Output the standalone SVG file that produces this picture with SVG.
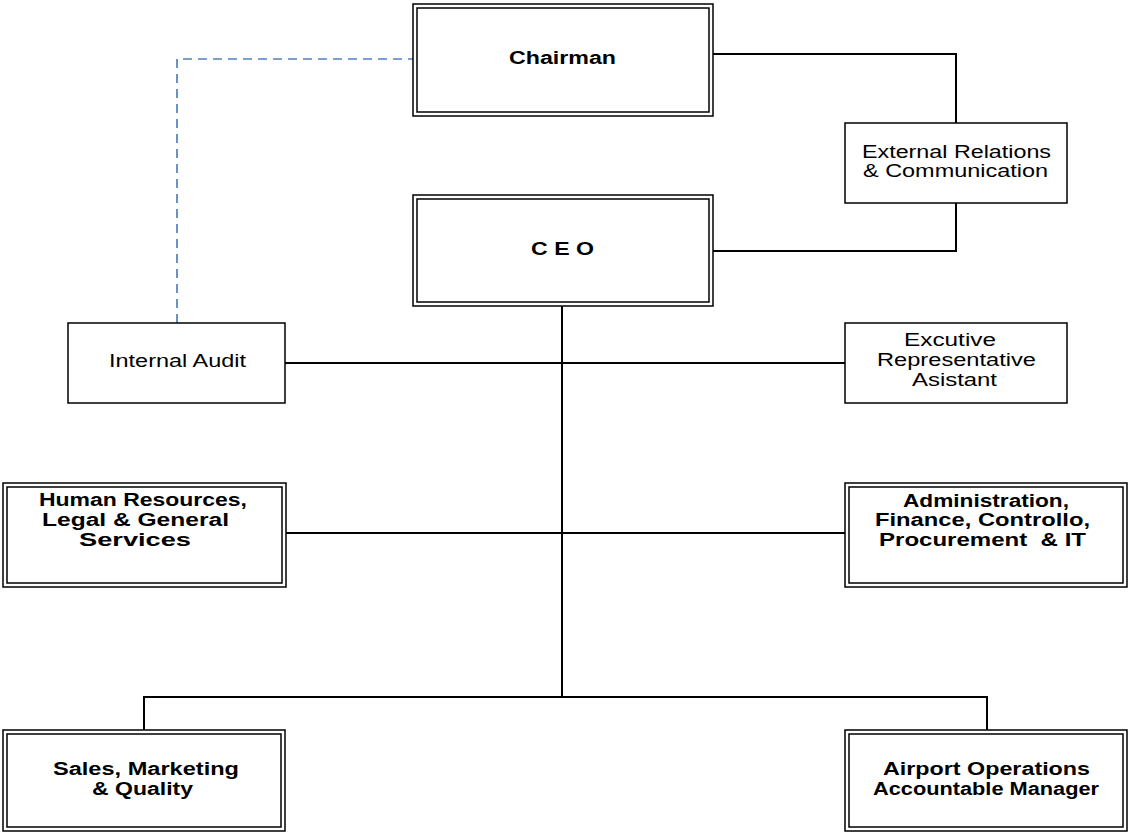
<svg xmlns="http://www.w3.org/2000/svg" width="1128" height="832" viewBox="0 0 1128 832">
<style>
.bg{fill:#fff}
.box{fill:#fff;stroke:#000;stroke-width:1.5}
.inner{fill:none;stroke:#000;stroke-width:1.5}
.conn{fill:none;stroke:#000;stroke-width:2}
.dash{fill:none;stroke:#4f81bd;stroke-width:1.7;stroke-dasharray:9 6}
.b{font-family:"Liberation Sans",Arial,sans-serif;font-weight:bold;font-size:18px;fill:#000;white-space:pre}
.r{font-family:"Liberation Sans",Arial,sans-serif;font-size:17.5px;fill:#000}
</style>
<rect class="bg" x="0" y="0" width="1128" height="832"/>
<g id="connectors">
<path class="dash" d="M177,323 V59 H417"/>
<path class="conn" d="M713,54 H956 V123"/>
<path class="conn" d="M956,203 V251 H713"/>
<path class="conn" d="M562,306 V697"/>
<path class="conn" d="M285,363 H845"/>
<path class="conn" d="M286,533 H845"/>
<path class="conn" d="M144,730 V697 H987 V730"/>
</g>
<g id="chairman">
<rect class="box" x="413" y="4" width="300" height="112"/>
<rect class="inner" x="417" y="8" width="292" height="104"/>
<text class="b" x="509" y="64" textLength="107" lengthAdjust="spacingAndGlyphs">Chairman</text>
</g>
<g id="ceo">
<rect class="box" x="413" y="195" width="300" height="111"/>
<rect class="inner" x="417" y="199" width="292" height="103"/>
<text class="b" x="531" y="255" textLength="63" lengthAdjust="spacingAndGlyphs">C E O</text>
</g>
<g id="external">
<rect class="box" x="845" y="123" width="222" height="80"/>
<text class="r" x="862" y="158" textLength="189" lengthAdjust="spacingAndGlyphs">External Relations</text>
<text class="r" x="863" y="177" textLength="185" lengthAdjust="spacingAndGlyphs">&amp; Communication</text>
</g>
<g id="internal-audit">
<rect class="box" x="68" y="323" width="217" height="80"/>
<text class="r" x="109" y="367" textLength="137" lengthAdjust="spacingAndGlyphs">Internal Audit</text>
</g>
<g id="executive">
<rect class="box" x="845" y="323" width="222" height="80"/>
<text class="r" x="904" y="346" textLength="92" lengthAdjust="spacingAndGlyphs">Excutive</text>
<text class="r" x="877" y="366" textLength="159" lengthAdjust="spacingAndGlyphs">Representative</text>
<text class="r" x="912" y="386" textLength="85" lengthAdjust="spacingAndGlyphs">Asistant</text>
</g>
<g id="hr">
<rect class="box" x="3" y="483" width="283" height="104"/>
<rect class="inner" x="7" y="487" width="275" height="96"/>
<text class="b" x="39" y="506" textLength="208" lengthAdjust="spacingAndGlyphs">Human Resources,</text>
<text class="b" x="42" y="526" textLength="187" lengthAdjust="spacingAndGlyphs">Legal &amp; General</text>
<text class="b" x="79" y="546" textLength="112" lengthAdjust="spacingAndGlyphs">Services</text>
</g>
<g id="admin">
<rect class="box" x="845" y="483" width="282" height="104"/>
<rect class="inner" x="849" y="487" width="274" height="96"/>
<text class="b" x="903" y="507" textLength="166" lengthAdjust="spacingAndGlyphs">Administration,</text>
<text class="b" x="875" y="526" textLength="215" lengthAdjust="spacingAndGlyphs">Finance, Controllo,</text>
<text class="b" x="879" y="546" textLength="207" lengthAdjust="spacingAndGlyphs" xml:space="preserve">Procurement  &amp; IT</text>
</g>
<g id="sales">
<rect class="box" x="3" y="730" width="282" height="101"/>
<rect class="inner" x="7" y="734" width="274" height="93"/>
<text class="b" x="53" y="775" textLength="186" lengthAdjust="spacingAndGlyphs">Sales, Marketing</text>
<text class="b" x="92" y="795" textLength="101" lengthAdjust="spacingAndGlyphs">&amp; Quality</text>
</g>
<g id="airport">
<rect class="box" x="845" y="730" width="282" height="101"/>
<rect class="inner" x="849" y="734" width="274" height="93"/>
<text class="b" x="883" y="775" textLength="207" lengthAdjust="spacingAndGlyphs">Airport Operations</text>
<text class="b" x="873" y="795" textLength="226" lengthAdjust="spacingAndGlyphs">Accountable Manager</text>
</g>
</svg>
